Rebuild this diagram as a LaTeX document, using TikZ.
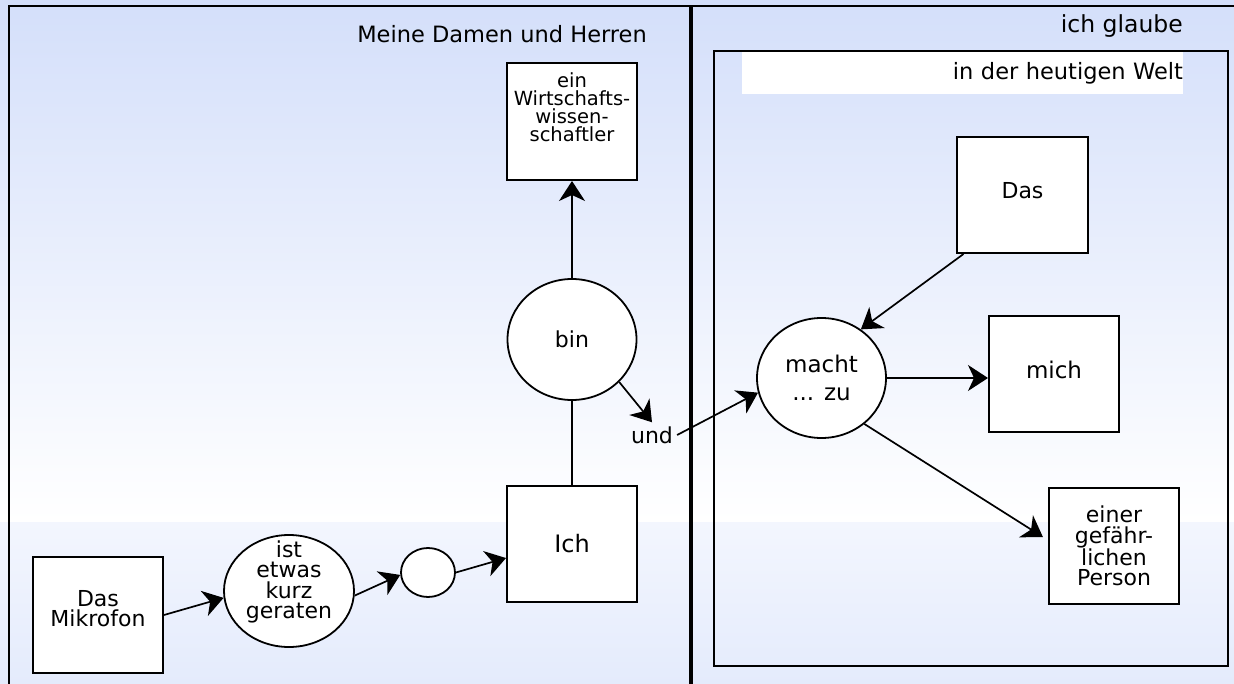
\documentclass[tikz,border=0pt]{standalone}
\usepackage{fontspec}
\setmainfont{DejaVu Sans}
\usepackage{tikz}
\usetikzlibrary{arrows.meta,shapes.geometric}

\definecolor{skytop}{RGB}{212,223,250}
\definecolor{skymid}{RGB}{243,246,254}
\definecolor{skybot}{RGB}{228,235,252}

\begin{document}
\begin{tikzpicture}[
			x=1pt, y=-1pt
			,every node/.append style={font=\fontsize{22}{20.5}\selectfont, align=center, inner sep=0pt}
			,sq/.style={rectangle, draw, fill=white, line width=2pt, minimum width=130pt, minimum height=116pt}
			,ov/.style={ellipse, draw, fill=white, line width=1.8pt, minimum width=129pt, minimum height=120pt}
			,ar/.style={-{Stealth[length=20pt, width=26pt, inset=6pt]}, line width=1.7pt}
			,pane/.style={line width=2pt}
		]
			\useasboundingbox (0,0) rectangle (1234,684);
			\clip (0,0) rectangle (1234,684);
			\fill[top color=skytop, bottom color=white] (0,0) rectangle (1234,522);
			\fill[top color=skymid, bottom color=skybot] (0,522) rectangle (1234,684);

			\draw[pane] (9,6) rectangle (690,700);
			\draw[pane] (692,6) rectangle (1250,700);
			\draw[line width=1.8pt] (714,51) rectangle (1228,666);

			\node [anchor=base east, font=\fontsize{22.5}{27}\selectfont] (L) at (647,43) {Meine Damen und Herren};
			\node [anchor=base east, font=\fontsize{23.5}{27}\selectfont] (M) at (1183,33) {ich glaube};
			\node [fill=white, minimum width=441pt, minimum height=42pt, text width=441pt, align=right, font=\fontsize{22.5}{27}\selectfont] (N) at (962.5,73) {in der heutigen Welt};

			\node [sq, minimum height=117pt, label={[anchor=north, yshift=-10pt, font=\fontsize{19.5}{18}\selectfont]north:{ein\\Wirtschafts-\\wissen-\\schaftler}}] (A) at (572,121.5) {};
			\node [ov, minimum height=121pt] (B) at (572,339.5) {bin};
			\node [sq, font=\fontsize{24}{25}\selectfont] (C) at (572,544) {Ich};
			\node [sq, label={[yshift=6.5pt]center:{Das\\Mikrofon}}] (D) at (98,615) {};
			\node [ov, minimum width=130pt, minimum height=112pt, label={[yshift=9pt]center:{ist\\etwas\\kurz\\geraten}}] (E) at (289,591) {};
			\node [ov, minimum width=54pt, minimum height=49pt] (F) at (428,572.5) {};
			\node [inner sep=4pt] (G) at (652,435) {und};

			\node [ov, font=\fontsize{23}{28}\selectfont] (H) at (821.5,378) {macht\\... zu};
			\node [sq, minimum width=131pt, text depth=9pt] (I) at (1022.5,195) {Das};
			\node [sq, font=\fontsize{23}{25}\selectfont, text depth=9pt] (J) at (1054,374) {mich};
			\node [sq] (K) at (1114,546) {einer\\gefähr-\\lichen\\Person};

			\draw [ar] (D.east) -- (E.186);
			\draw [ar] (E.-4) -- (F.185);
			\draw [ar] (F.east) -- (C.192);
			\draw [line width=1.7pt] (C.north) -- (B.south);
			\draw [ar] (B.north) -- (A.south);
			\draw [ar] (B.-42) -- (G.north);
			\draw [ar] (G.east) -- (H.193);
			\draw [ar] (I.225) -- (H.51);
			\draw [ar] (H.east) -- (H.east -| J.west);
			\draw [ar, shorten >=6pt] (H.-47) -- (K.175);
		\end{tikzpicture}
\end{document}
